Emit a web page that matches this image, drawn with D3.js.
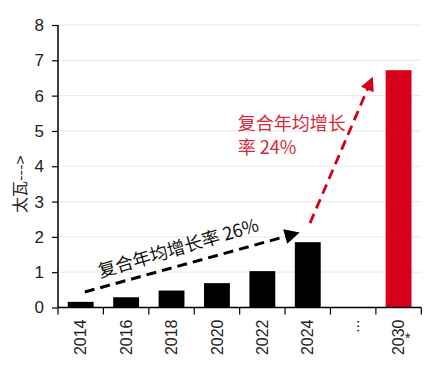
<!DOCTYPE html>
<html><head><meta charset="utf-8">
<script src="https://cdn.jsdelivr.net/npm/d3@7"></script>
<style>body{margin:0;background:#fff}</style></head>
<body><svg id="c" width="440" height="368"></svg>
<script>
const categories = ["2014","2016","2018","2020","2022","2024","...","2030"];
const values = [0.16, 0.29, 0.48, 0.69, 1.03, 1.85, null, 6.72];
const yTicks = [0,1,2,3,4,5,6,7,8];
const yLabel = "太瓦--->";
const blackNote = "复合年均增长率 26%";
const redNoteLines = ["复合年均增长", "率 24%"];
// arrows in data units: [band position, value]
const blackArrow = [[0.59, 0.44], [5.29, 2.11]];
const redArrow = [[5.55, 2.39], [6.92, 6.5]];
const blackNotePos = [0.93, 0.84];
const redNotePos = [3.96, 5.03];

const W = 440, H = 368;
const m = {l: 58, r: 421.3, t: 25, b: 307.5};
const svg = d3.select("#c");
const font = "'Liberation Sans', Arial, sans-serif";
const cjk = "'Noto Sans CJK SC', 'Liberation Sans', sans-serif";
const red = "#d7001a";

const x = d3.scaleBand().domain(categories).range([m.l, m.r]).paddingInner(0.43).paddingOuter(0.215);
const xb = d3.scaleBand().domain(categories).range([m.l, m.r]);
const xp = d3.scaleLinear().domain([0, categories.length]).range([m.l, m.r]);
const y = d3.scaleLinear().domain([0, 8]).range([m.b, m.t]);

// grid
svg.append("g").selectAll("line").data(yTicks.filter(d => d > 0)).join("line")
  .attr("x1", m.l).attr("x2", m.r).attr("y1", d => y(d)).attr("y2", d => y(d))
  .attr("stroke", "#ebebeb").attr("stroke-width", 1.2);

// bars
svg.append("g").selectAll("rect").data(categories.map((c, i) => ({c, v: values[i]})).filter(d => d.v != null)).join("rect")
  .attr("x", d => x(d.c)).attr("width", x.bandwidth())
  .attr("y", d => y(d.v)).attr("height", d => y(0) - y(d.v))
  .attr("fill", d => d.c === "2030" ? red : "#000");

// y axis
const ya = svg.append("g").attr("transform", `translate(${m.l},0)`)
  .call(d3.axisLeft(y).tickValues(yTicks).tickSize(6).tickPadding(8).tickFormat(d3.format("d")));
ya.select(".domain").attr("stroke", "#000").attr("stroke-width", 1.5).attr("d", `M0,${m.t}V${m.b}`);
ya.selectAll(".tick line").attr("stroke", "#000").attr("stroke-width", 1.2);
ya.selectAll("text").attr("font-family", font).attr("font-size", 17).attr("fill", "#222");

// x axis
const xa = svg.append("g").attr("transform", `translate(0,${m.b})`);
xa.append("line").attr("x1", m.l).attr("x2", m.r).attr("stroke", "#000").attr("stroke-width", 1.5);
xa.selectAll("line.t").data(d3.range(categories.length + 1)).join("line").attr("class", "t")
  .attr("x1", d => xp(d)).attr("x2", d => xp(d)).attr("y1", 0).attr("y2", 7)
  .attr("stroke", "#000").attr("stroke-width", 1.2);
xa.selectAll("text").data(categories).join("text")
  .attr("transform", d => `translate(${xb(d) + xb.bandwidth() / 2},12) rotate(-90)`)
  .attr("text-anchor", "end").attr("dy", "0.35em")
  .attr("font-family", font).attr("font-size", 16).attr("fill", "#222")
  .text(d => d);
svg.append("text").attr("x", xb("2030") + xb.bandwidth() / 2 + 9).attr("y", 343)
  .attr("font-family", font).attr("font-size", 15).attr("fill", "#222").attr("text-anchor", "middle").text("*");

// y label
svg.append("text").attr("transform", `translate(20,${(m.t + m.b) / 2 + 18}) rotate(-90)`)
  .attr("text-anchor", "middle").attr("dy", "0.35em")
  .attr("font-family", cjk).attr("font-size", 16).attr("fill", "#222").text(yLabel);

// markers
const defs = svg.append("defs");
[["ab", "#000"], ["ar", red]].forEach(([id, col]) => {
  defs.append("marker").attr("id", id).attr("viewBox", "0 0 10 10").attr("refX", 9).attr("refY", 5)
    .attr("markerWidth", 5.5).attr("markerHeight", 5).attr("markerUnits", "strokeWidth").attr("orient", "auto")
    .append("path").attr("d", "M0,0L10,5L0,10Z").attr("fill", col);
});

function arrow(pts, col, mk, w) {
  svg.append("line")
    .attr("x1", xp(pts[0][0])).attr("y1", y(pts[0][1]))
    .attr("x2", xp(pts[1][0])).attr("y2", y(pts[1][1]))
    .attr("stroke", col).attr("stroke-width", w).attr("stroke-dasharray", "10,6")
    .attr("marker-end", `url(#${mk})`);
}
arrow(blackArrow, "#000", "ab", 3);
arrow(redArrow, red, "ar", 2.8);

// black note
const ang = Math.atan2(y(blackArrow[1][1]) - y(blackArrow[0][1]), xp(blackArrow[1][0]) - xp(blackArrow[0][0])) * 180 / Math.PI;
svg.append("text")
  .attr("transform", `translate(${xp(blackNotePos[0])},${y(blackNotePos[1])}) rotate(${ang - 1})`)
  .attr("font-family", cjk).attr("font-size", 18).attr("fill", "#111").text(blackNote);

// red note
svg.append("g").selectAll("text").data(redNoteLines).join("text")
  .attr("x", xp(redNotePos[0])).attr("y", (d, i) => y(redNotePos[1]) + i * 24)
  .attr("font-family", cjk).attr("font-size", 18).attr("fill", "#d6293a").text(d => d);
</script></body></html>
